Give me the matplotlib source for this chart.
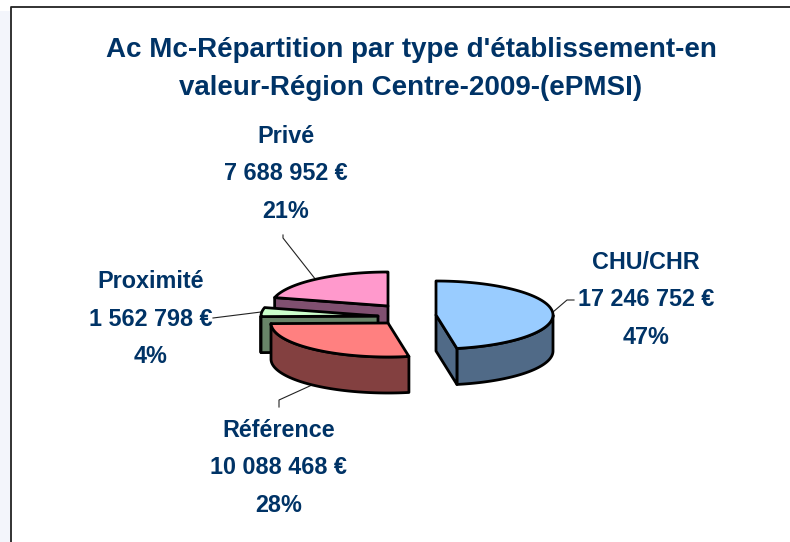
from matplotlib import pyplot as plt
from matplotlib.patches import Polygon
import numpy as np

# values from the chart
categories = ["CHU/CHR", "Référence", "Proximité", "Privé"]
values = [17246752, 10088468, 1562798, 7688952]
value_labels = ["17 246 752 €", "10 088 468 €", "1 562 798 €", "7 688 952 €"]
pct_labels = ["47%", "28%", "4%", "21%"]
title = "Ac Mc-Répartition par type d'établissement-en\nvaleur-Région Centre-2009-(ePMSI)"

NAVY = "#003366"
top_colors = ["#99ccff", "#ff8080", "#ccffcc", "#ff99cc"]
side_colors = ["#506a87", "#834040", "#688468", "#805070"]
centers = [(436, 315), (388, 323), (378, 316), (388, 306)]
label_pos = [(646, 300), (279, 468), (151, 319), (286, 174)]
RX, RY, DEPTH = 117, 34, 36

plt.rcParams["font.family"] = ["Liberation Sans", "DejaVu Sans"]

fig = plt.figure(figsize=(7.9, 5.42), dpi=100)
ax = fig.add_axes([0, 0, 1, 1])
ax.set_xlim(0, 790)
ax.set_ylim(542, 0)
ax.axis("off")

# pale page showing left of the chart, then the frame (no right side)
ax.axvspan(0, 10, ymin=0, ymax=0.98, color="#f3f5fb", lw=0)
ax.plot([11, 11, 790], [542, 7, 7], color="#222222", lw=1.3)


def arc(i, a0, a1):
    t = np.radians(np.linspace(a0, a1, 80))
    cx, cy = centers[i]
    return np.column_stack([cx + RX * np.sin(t), cy - RY * np.cos(t)])


def draw_slice(i, a0, a1, zorder):
    cx, cy = centers[i]
    pts = arc(i, a0, a1)
    down = np.array([0, DEPTH])
    style = dict(ec="black", lw=2.0, joinstyle="round", zorder=zorder)
    # outer wall, only the part of the rim facing the viewer
    lo, hi = max(a0, 90), min(a1, 270)
    if hi > lo:
        rim = arc(i, lo, hi)
        ax.add_patch(Polygon(np.vstack([rim, rim[::-1] + down]), fc=side_colors[i], **style))
    # cut faces, only those turned towards the viewer
    visible = []
    if np.sin(np.radians(a0)) < -1e-9:
        visible.append(a0)
    if np.sin(np.radians(a1)) > 1e-9:
        visible.append(a1)
    for a in visible:
        edge = arc(i, a, a)[0]
        face = np.array([[cx, cy], edge, edge + down, [cx, cy + DEPTH]])
        ax.add_patch(Polygon(face, fc=side_colors[i], **style))
    ax.add_patch(Polygon(np.vstack([[cx, cy], pts]), fc=top_colors[i], **style))


angles = np.concatenate([[0], np.cumsum(values) / np.sum(values) * 360])
for z, i in enumerate([3, 2, 1, 0]):
    draw_slice(i, angles[i], angles[i + 1], 3 + z)

# leader lines
leaders = [
    ([553, 567, 574], [312, 300, 300]),
    ([279, 279, 312], [407, 400, 385]),
    ([213, 261], [318, 312]),
    ([283, 283, 316], [235, 238, 280]),
]
for xs, ys in leaders:
    ax.plot(xs, ys, color="#222222", lw=0.8, zorder=2)

ax.text(411, 69, title, ha="center", va="center", color=NAVY, fontsize=20,
        fontweight="bold", linespacing=1.62)

for i, name in enumerate(categories):
    x, y = label_pos[i]
    txt = name + "\n" + value_labels[i] + "\n" + pct_labels[i]
    ax.text(x, y, txt, ha="center", va="center", color=NAVY, fontsize=16.8,
            fontweight="bold", linespacing=1.78, zorder=10)

fig.savefig("out.png", dpi=100)
